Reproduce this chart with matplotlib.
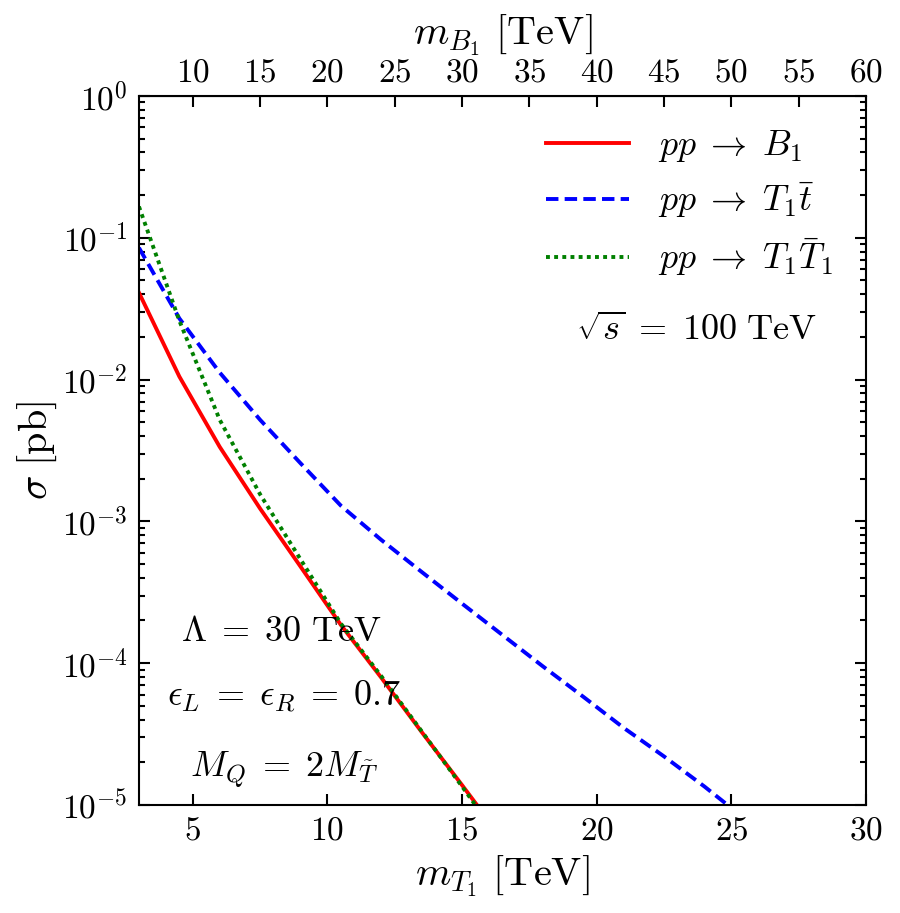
import math
import matplotlib
matplotlib.use("Agg")
import matplotlib.pyplot as plt
from matplotlib.ticker import FixedLocator, FuncFormatter, LogLocator, NullFormatter

plt.rcParams['mathtext.fontset'] = 'cm'
plt.rcParams['font.family'] = 'serif'
plt.rcParams['font.serif'] = ['cmr10', 'DejaVu Serif']
plt.rcParams['axes.unicode_minus'] = False

# data
m_T1 = [3, 4.5, 6, 7.5, 9, 10.5, 12, 13.5, 15, 16.5]
sigma_B1 = [0.041, 0.0105, 3.35e-3, 1.23e-3, 4.8e-4, 1.86e-4, 7.9e-5, 3.27e-5, 1.38e-5, 5.75e-6]
sigma_T1T1 = [0.166, 0.026, 5.2e-3, 1.55e-3, 5.4e-4, 1.9e-4, 8.1e-5, 3.31e-5, 1.35e-5, 5.4e-6]
m_T1_b = [3, 4.5, 6, 7.5, 9, 10.5, 12, 13.5, 15, 16.5, 18, 19.5, 21, 22.5, 24, 25.5]
sigma_T1t = [0.085, 0.027, 0.0112, 5.2e-3, 2.57e-3, 1.29e-3, 7.4e-4, 4.4e-4, 2.63e-4,
             1.58e-4, 9.5e-5, 5.8e-5, 3.5e-5, 2.2e-5, 1.35e-5, 8.0e-6]
labels = [r'$pp \;\rightarrow\; B_1$', r'$pp \;\rightarrow\; T_1\bar{t}$',
          r'$pp \;\rightarrow\; T_1\bar{T}_1$']
bottom_ticks = [5, 10, 15, 20, 25, 30]
top_ticks = [10, 15, 20, 25, 30, 35, 40, 45, 50, 55, 60]

FS_TICK = 24
FS_TXT = 26
FS_LAB = 29
fig = plt.figure(figsize=(9, 9.13), dpi=100)
ax = fig.add_axes([0.1544, 0.1183, 0.8078, 0.7766])

LW = 2.8
ax.plot(m_T1, sigma_B1, color='red', lw=LW, label=labels[0])
ax.plot(m_T1_b, sigma_T1t, color='blue', lw=LW, ls=(0, (3.2, 1.6)), label=labels[1])
ax.plot(m_T1, sigma_T1T1, color='green', lw=LW, ls=(0, (1, 1.1)), label=labels[2])

ax.set_yscale('log')
ax.set_xlim(3, 30)
ax.set_ylim(1e-5, 1)
ax.xaxis.set_major_locator(FixedLocator(bottom_ticks))
ax.xaxis.set_major_formatter(FuncFormatter(lambda v, p: r'$%d$' % v))
ax.yaxis.set_major_locator(LogLocator(base=10, numticks=10))
ax.yaxis.set_major_formatter(FuncFormatter(lambda v, p: r'$10^{%d}$' % round(math.log10(v))))
ax.yaxis.set_minor_locator(LogLocator(base=10, subs=range(2, 10), numticks=20))
ax.yaxis.set_minor_formatter(NullFormatter())
ax.tick_params(which='both', direction='in', right=True, top=False, labelsize=FS_TICK, width=1.5)
ax.tick_params(which='major', length=8, pad=8)
ax.tick_params(which='minor', length=4)
for s in ax.spines.values():
    s.set_linewidth(1.5)

sec = ax.secondary_xaxis('top', functions=(lambda x: 2 * x, lambda x: x / 2))
sec.xaxis.set_major_locator(FixedLocator(top_ticks))
sec.xaxis.set_major_formatter(FuncFormatter(lambda v, p: r'$%d$' % v))
sec.tick_params(direction='in', length=8, width=1.5, labelsize=FS_TICK, pad=6)
sec.set_xlabel(r'$m_{B_1}\ [\mathrm{TeV}]$', fontsize=FS_LAB, labelpad=10)

ax.set_xlabel(r'$m_{T_1}\ [\mathrm{TeV}]$', fontsize=FS_LAB, labelpad=6)
ax.set_ylabel(r'$\sigma\ [\mathrm{pb}]$', fontsize=FS_LAB, labelpad=2)

leg = ax.legend(loc='upper right', fontsize=FS_TXT, frameon=False, handlelength=2.3,
                labelspacing=0.45, borderaxespad=0.5, handletextpad=0.8)

ax.text(0.195, 0.244, r'$\Lambda \;=\; 30\ \mathrm{TeV}$', transform=ax.transAxes,
        fontsize=FS_TXT, ha='center', va='center')
ax.text(0.2, 0.152, r'$\epsilon_L \;=\; \epsilon_R \;=\; 0.7$', transform=ax.transAxes,
        fontsize=FS_TXT, ha='center', va='center')
ax.text(0.2, 0.049, r'$M_Q \;=\; 2M_{\tilde{T}}$', transform=ax.transAxes,
        fontsize=FS_TXT, ha='center', va='center')
ax.text(0.7675, 0.67, r'$\sqrt{s} \;=\; 100\ \mathrm{TeV}$', transform=ax.transAxes,
        fontsize=FS_TXT, ha='center', va='center')

fig.savefig('out.png', dpi=100)
